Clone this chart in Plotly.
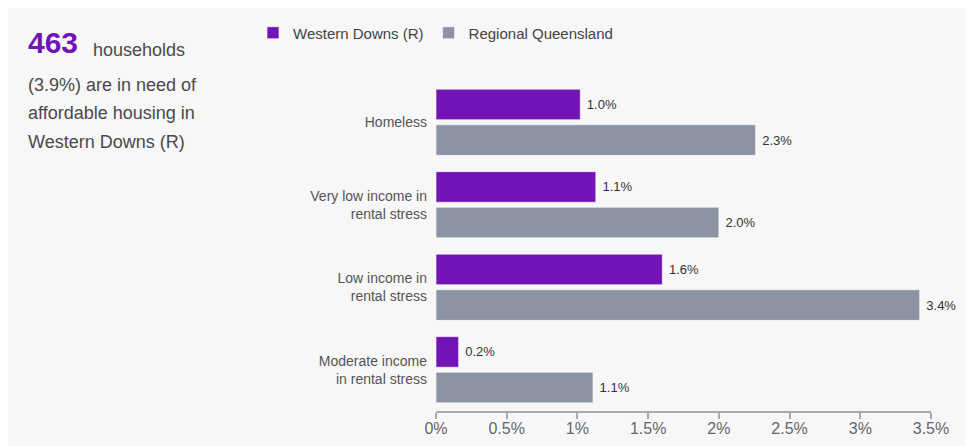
import plotly.graph_objects as go

# data
categories = ["Homeless", "Very low income in<br>rental stress",
              "Low income in<br>rental stress", "Moderate income<br>in rental stress"]
series_names = ["Western Downs (R)", "Regional Queensland"]
western_downs = [1.02, 1.13, 1.6, 0.16]
regional_qld = [2.26, 2.0, 3.42, 1.11]
tick_vals = [0, 0.5, 1, 1.5, 2, 2.5, 3, 3.5]
tick_text = ["0%", "0.5%", "1%", "1.5%", "2%", "2.5%", "3%", "3.5%"]

W, H = 973, 446
L, R, T, B = 428, 50, 73, 43
PW, PH = W - L - R, H - T - B

PURPLE = "#7213b5"
GREY = "#8c93a2"
BG = "#f7f7f7"
FONT = "Arial, Liberation Sans, sans-serif"


# pixel (figure coords) -> paper coords
def px_x(p):
    return (p - L) / PW


def px_y(p):
    return (H - B - p) / PH


fig = go.Figure()
for name, vals, col in [(series_names[0], western_downs, PURPLE),
                        (series_names[1], regional_qld, GREY)]:
    fig.add_trace(go.Bar(
        y=categories, x=vals, name=name, orientation="h",
        marker=dict(color=col, line=dict(color="rgba(255,255,255,0.6)", width=1)),
        texttemplate="&nbsp;%{x:.1f}%", textposition="outside",
        textfont=dict(size=13, color="#333"), constraintext="none",
        cliponaxis=False, hoverinfo="skip",
    ))

# left hand summary text
fig.add_annotation(xref="paper", yref="paper", x=px_x(18), y=px_y(35),
                   xanchor="left", yanchor="middle", text="<b>463</b>", showarrow=False,
                   font=dict(size=30, color=PURPLE, family=FONT))
fig.add_annotation(xref="paper", yref="paper", x=px_x(83), y=px_y(42),
                   xanchor="left", yanchor="middle", text="households", showarrow=False,
                   font=dict(size=18, color="#4a4a4a", family=FONT))
for txt, yc in [("(3.9%) are in need of", 77), ("affordable housing in", 105),
                ("Western Downs (R)", 134)]:
    fig.add_annotation(xref="paper", yref="paper", x=px_x(18), y=px_y(yc),
                       xanchor="left", yanchor="middle", text=txt, showarrow=False,
                       font=dict(size=18, color="#4a4a4a", family=FONT))

fig.update_layout(
    width=W, height=H,
    margin=dict(l=L, r=R, t=T, b=B, pad=0, autoexpand=False),
    paper_bgcolor=BG, plot_bgcolor=BG,
    font=dict(family=FONT, color="#555"),
    barmode="group", bargap=0.137, bargroupgap=0.14,
    showlegend=True,
    legend=dict(orientation="h", x=px_x(245), y=px_y(25), xanchor="left", yanchor="middle",
                font=dict(size=15, color="#444"), bgcolor="rgba(0,0,0,0)",
                itemclick=False, traceorder="normal"),
    xaxis=dict(range=[0, 3.5], tickvals=tick_vals, ticktext=tick_text,
               showgrid=False, zeroline=False, showline=True, linecolor="#aaa", linewidth=1.5,
               ticks="outside", ticklen=6, tickcolor="#aaa", tickwidth=1.5,
               ticklabelstandoff=-4, tickfont=dict(size=16, color="#666")),
    yaxis=dict(categoryorder="array", categoryarray=categories, autorange="reversed",
               showgrid=False, zeroline=False, showline=False, ticks="",
               ticklabelstandoff=8, tickfont=dict(size=14, color="#555")),
)

fig.write_html("out.html")
